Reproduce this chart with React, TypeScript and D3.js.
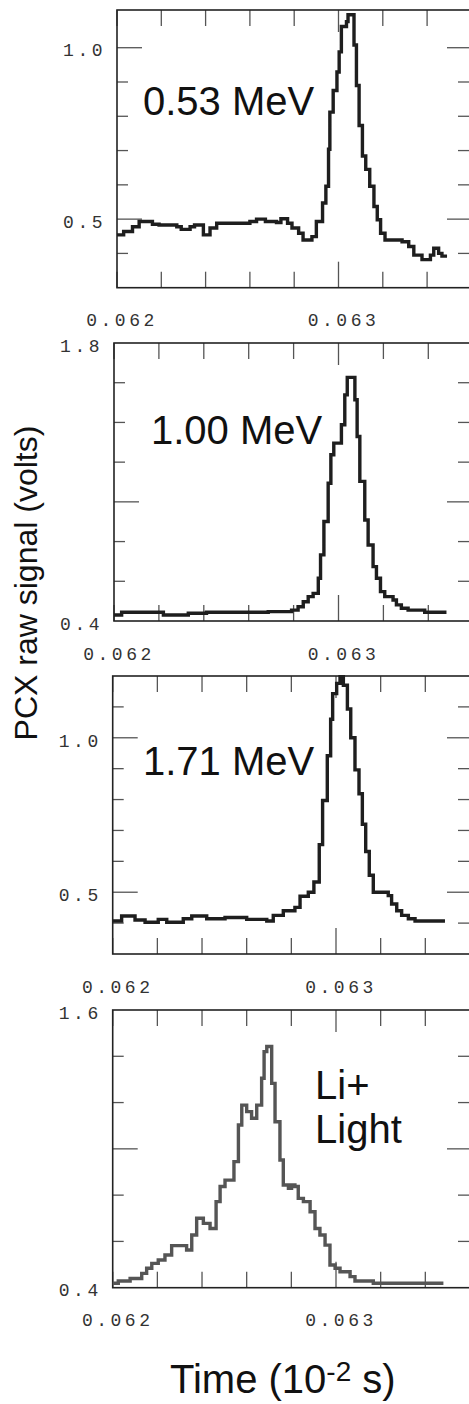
import React from "react";
import * as d3 from "d3";

// ---------- data ----------
const p1Time = [0.062, 0.06203, 0.06207, 0.0621, 0.06216, 0.06219, 0.06227, 0.06229, 0.06233, 0.06235, 0.06239, 0.06242, 0.06245, 0.0626, 0.06263, 0.06267, 0.06272, 0.06274, 0.06277, 0.06279, 0.06282, 0.06284, 0.06288, 0.0629, 0.062928, 0.062943, 0.062955, 0.062961, 0.062976, 0.062993, 0.063003, 0.063013, 0.063036, 0.063043, 0.06307, 0.063081, 0.063093, 0.063108, 0.063123, 0.063141, 0.06316, 0.063175, 0.06319, 0.06321, 0.063287, 0.063317, 0.06334, 0.063377, 0.063415, 0.06343, 0.063452, 0.063467, 0.06349];
const p1Volts = [0.454, 0.464, 0.478, 0.493, 0.485, 0.483, 0.478, 0.47, 0.478, 0.483, 0.454, 0.474, 0.488, 0.493, 0.5, 0.493, 0.49, 0.501, 0.488, 0.474, 0.459, 0.439, 0.449, 0.493, 0.547, 0.596, 0.704, 0.812, 0.875, 0.929, 0.988, 1.062, 1.076, 1.096, 1.008, 0.89, 0.773, 0.684, 0.645, 0.596, 0.537, 0.498, 0.459, 0.439, 0.434, 0.42, 0.395, 0.382, 0.395, 0.415, 0.4, 0.392, 0.392];

const p2Time = [0.062, 0.062034, 0.06222, 0.062331, 0.062412, 0.062687, 0.062791, 0.06282, 0.062843, 0.062865, 0.062887, 0.06291, 0.06292, 0.062935, 0.062954, 0.062966, 0.062979, 0.063013, 0.063028, 0.063039, 0.063073, 0.063083, 0.063095, 0.063117, 0.063132, 0.063154, 0.063169, 0.063187, 0.063206, 0.063243, 0.063258, 0.06328, 0.06331, 0.063384, 0.063481];
const p2Volts = [0.43, 0.444, 0.43, 0.439, 0.444, 0.447, 0.455, 0.472, 0.497, 0.523, 0.539, 0.615, 0.733, 0.901, 1.094, 1.237, 1.296, 1.388, 1.539, 1.627, 1.514, 1.329, 1.103, 0.909, 0.783, 0.674, 0.615, 0.548, 0.523, 0.506, 0.481, 0.464, 0.455, 0.444, 0.444];

const p3Time = [0.062, 0.06204, 0.0621, 0.062145, 0.062204, 0.062242, 0.062316, 0.062354, 0.062421, 0.062503, 0.0626, 0.06269, 0.062719, 0.062764, 0.062816, 0.062839, 0.062876, 0.062901, 0.062925, 0.06294, 0.062961, 0.062976, 0.062985, 0.063003, 0.063018, 0.063033, 0.063051, 0.063066, 0.063085, 0.063103, 0.063118, 0.063133, 0.063149, 0.063167, 0.063234, 0.063249, 0.063272, 0.063294, 0.063324, 0.063354, 0.063488];
const p3Volts = [0.407, 0.423, 0.41, 0.403, 0.412, 0.403, 0.414, 0.423, 0.414, 0.418, 0.412, 0.407, 0.425, 0.44, 0.451, 0.487, 0.5, 0.533, 0.654, 0.797, 0.942, 1.06, 1.143, 1.176, 1.198, 1.17, 1.093, 1.0, 0.896, 0.819, 0.72, 0.632, 0.555, 0.5, 0.489, 0.462, 0.44, 0.425, 0.414, 0.407, 0.407];

const p4Time = [0.062, 0.062025, 0.062078, 0.06213, 0.062152, 0.062175, 0.062204, 0.062234, 0.062264, 0.062331, 0.062354, 0.062376, 0.062406, 0.062436, 0.062463, 0.062481, 0.062503, 0.062543, 0.062563, 0.062578, 0.0626, 0.062622, 0.062645, 0.062667, 0.062678, 0.06269, 0.062712, 0.062727, 0.062749, 0.062764, 0.062787, 0.062801, 0.062816, 0.062831, 0.062854, 0.062884, 0.062906, 0.062928, 0.062951, 0.062973, 0.062996, 0.063018, 0.063063, 0.063085, 0.063167, 0.063481];
const p4Volts = [0.419, 0.429, 0.44, 0.462, 0.484, 0.505, 0.52, 0.541, 0.582, 0.563, 0.628, 0.7, 0.678, 0.656, 0.772, 0.837, 0.865, 0.945, 1.103, 1.189, 1.161, 1.132, 1.189, 1.305, 1.42, 1.442, 1.283, 1.117, 0.952, 0.844, 0.829, 0.844, 0.837, 0.786, 0.772, 0.728, 0.656, 0.628, 0.584, 0.498, 0.484, 0.469, 0.448, 0.429, 0.419, 0.419];

const timeTicks = [0.062, 0.0622, 0.0624, 0.0626, 0.0628, 0.063, 0.0632, 0.0634, 0.0636];
const timeMajor = [0.063];
const timeLabels = ["0.062", "0.063"];
const timeLabelValues = [0.062, 0.063];

const panelLabels = [["0.53 MeV"], ["1.00 MeV"], ["1.71 MeV"], ["Li+", "Light"]];
const yDomains = [[0.3, 1.11], [0.4, 1.8], [0.3, 1.2], [0.4, 1.6]];
const yTicks = [
  [0.4, 0.5, 0.6, 0.7, 0.8, 0.9, 1.0],
  [0.6, 0.8, 1.0, 1.2, 1.4, 1.6],
  [0.4, 0.5, 0.6, 0.7, 0.8, 0.9, 1.0, 1.1],
  [0.6, 0.8, 1.0, 1.2, 1.4],
];
const yMajor = [[0.5, 1.0], [1.0], [0.5, 1.0], [1.0]];
const yLabelValues = [[1.0, 0.5], [1.8, 0.4], [1.0, 0.5], [1.6, 0.4]];
const yLabels = [["1.0", "0.5"], ["1.8", "0.4"], ["1.0", "0.5"], ["1.6", "0.4"]];

const series = [
  { time: p1Time, volts: p1Volts },
  { time: p2Time, volts: p2Volts },
  { time: p3Time, volts: p3Volts },
  { time: p4Time, volts: p4Volts },
];

// ---------- layout ----------
const W = 469;
const H = 1404;
const layout = [
  { left: 117, top: 10, bottom: 287.7, pxPerMs: 221.5, color: "#1e1e1e", label: { x: 143, y: 115 } },
  { left: 114, top: 343, bottom: 621, pxPerMs: 224.5, color: "#1e1e1e", label: { x: 151, y: 444 } },
  { left: 112.7, top: 676, bottom: 954, pxPerMs: 223.3, color: "#1e1e1e", label: { x: 143, y: 775 } },
  { left: 112.7, top: 1010, bottom: 1287.7, pxPerMs: 223.3, color: "#555", label: { x: 315, y: 1099 } },
];

const monoFont = "'Liberation Mono', 'DejaVu Sans Mono', monospace";
const sansFont = "'Liberation Sans', Arial, Helvetica, sans-serif";

function Panel({ i }: { i: number }) {
  const L = layout[i];
  const x = d3
    .scaleLinear()
    .domain([0.062, 0.0636])
    .range([L.left, L.left + 1.6 * L.pxPerMs]);
  const y = d3.scaleLinear().domain(yDomains[i]).range([L.bottom, L.top]);
  const s = series[i];
  const pts = s.time.map((t, k) => [t, s.volts[k]] as [number, number]);
  const line = d3
    .line<[number, number]>()
    .x((d) => x(d[0]))
    .y((d) => y(d[1]))
    .curve(d3.curveStepAfter);
  const right = x(0.0636);
  const tickColor = "#555";
  return (
    <g>
      {timeTicks.map((t) => {
        const major = timeMajor.includes(t);
        const xx = x(t);
        return (
          <g key={"xt" + t}>
            <line x1={xx} x2={xx} y1={L.top} y2={L.top + (major ? 22 : 16)} stroke={tickColor} strokeWidth={1.3} />
            <line x1={xx} x2={xx} y1={L.bottom} y2={L.bottom - (major ? 26 : 16)} stroke={tickColor} strokeWidth={1.3} />
          </g>
        );
      })}
      {yTicks[i].map((v) => {
        const major = yMajor[i].includes(v);
        const yy = y(v);
        return (
          <g key={"yt" + v}>
            <line x1={L.left} x2={L.left + (major ? 25 : 11)} y1={yy} y2={yy} stroke={tickColor} strokeWidth={1.3} />
            <line x1={W} x2={W - (major ? 22 : 11)} y1={yy} y2={yy} stroke={tickColor} strokeWidth={1.3} />
          </g>
        );
      })}
      <rect x={L.left} y={L.top} width={right - L.left} height={L.bottom - L.top} fill="none" stroke="#222" strokeWidth={1.6} />
      <path d={line(pts) || ""} fill="none" stroke={L.color} strokeWidth={3.4} strokeLinejoin="miter" />
      {yLabelValues[i].map((v, k) => (
        <text
          key={"yl" + k}
          x={L.left - 11}
          y={y(v) + 4}
          textAnchor="end"
          dominantBaseline="middle"
          fontFamily={monoFont}
          fontSize={18}
          letterSpacing={3.5}
          fill="#333"
        >
          {yLabels[i][k]}
        </text>
      ))}
      {timeLabelValues.map((t, k) => (
        <text
          key={"xl" + k}
          x={x(t) + 5}
          y={L.bottom + 34}
          textAnchor="middle"
          dominantBaseline="middle"
          fontFamily={monoFont}
          fontSize={18}
          letterSpacing={3.5}
          fill="#333"
        >
          {timeLabels[k]}
        </text>
      ))}
      {panelLabels[i].map((txt, k) => (
        <text key={"pl" + k} x={L.label.x} y={L.label.y + k * 44} fontFamily={sansFont} fontSize={40} fill="#111">
          {txt}
        </text>
      ))}
    </g>
  );
}

export default function App() {
  return (
    <svg
      width={W}
      height={H}
      viewBox={`0 0 ${W} ${H}`}
      style={{ position: "absolute", left: 0, top: 0, background: "#fff" }}
    >
      <rect x={0} y={0} width={W} height={H} fill="#fff" />
      {[0, 1, 2, 3].map((i) => (
        <Panel key={i} i={i} />
      ))}
      <text
        transform="translate(37,583) rotate(-90)"
        textAnchor="middle"
        fontFamily={sansFont}
        fontSize={32}
        fill="#111"
      >
        PCX raw signal (volts)
      </text>
      <text x={170} y={1393} fontFamily={sansFont} fontSize={40} fill="#111">
        <tspan>Time (10</tspan>
        <tspan fontSize={28} dy={-12}>-2</tspan>
        <tspan dy={12}> s)</tspan>
      </text>
    </svg>
  );
}
